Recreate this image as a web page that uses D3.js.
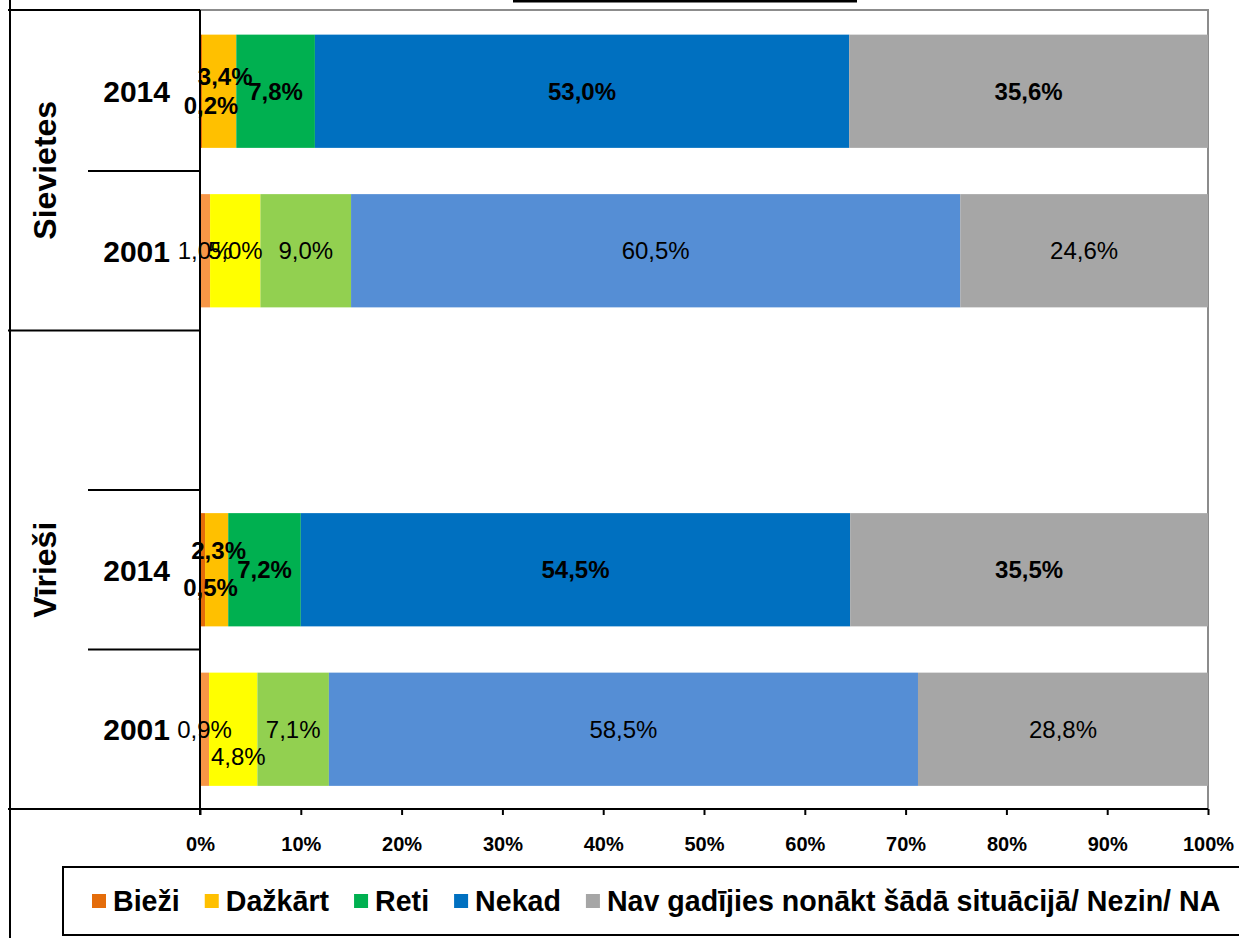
<!DOCTYPE html>
<html>
<head>
<meta charset="utf-8">
<script src="https://cdn.jsdelivr.net/npm/d3@7"></script>
<style>
  body { margin: 0; background: #fff; }
  svg { display: block; font-family: 'Liberation Sans', Arial, sans-serif; }
</style>
</head>
<body>
<div id="chart"></div>
<script>
// categories (top to bottom), blank slot separates the two groups
const rowKeys = ['S2014', 'S2001', 'gap', 'V2014', 'V2001'];
const rowYears = ['2014', '2001', '', '2014', '2001'];
const groups = ['Sievietes', 'Vīrieši'];

const series = ['Bieži', 'Dažkārt', 'Reti', 'Nekad', 'Nav gadījies nonākt šādā situācijā/ Nezin/ NA'];

// values in %
const sievietes2014 = [0.2, 3.4, 7.8, 53.0, 35.6];
const sievietes2001 = [1.0, 5.0, 9.0, 60.5, 24.6];
const viriesi2014 = [0.5, 2.3, 7.2, 54.5, 35.5];
const viriesi2001 = [0.9, 4.8, 7.1, 58.5, 28.8];

const colors2014 = ['#E46C0A', '#FFC000', '#00B050', '#0070C0', '#A6A6A6'];
const colors2001 = ['#F79646', '#FFFF00', '#92D050', '#558ED5', '#A6A6A6'];

// manual label nudges (row, series index, dx, dy) as placed in the original
const labelNudges = [
  ['S2014', 0, 10, 14], ['S2014', 1, 6, -15],
  ['V2014', 0, 8, 18], ['V2014', 1, 2, -19],
  ['V2001', 1, 5, 27]
];

const width = 1239, height = 938;
const plot = {left: 200, right: 1208, top: 10, bottom: 809};

const rows = [
  {key: 'S2014', values: sievietes2014, colors: colors2014, bold: true},
  {key: 'S2001', values: sievietes2001, colors: colors2001, bold: false},
  {key: 'V2014', values: viriesi2014, colors: colors2014, bold: true},
  {key: 'V2001', values: viriesi2001, colors: colors2001, bold: false}
];

const table = rows.map(r => {
  const o = {key: r.key};
  series.forEach((s, i) => o[s] = r.values[i]);
  return o;
});
const stacked = d3.stack().keys(series).offset(d3.stackOffsetExpand)(table);

const x = d3.scaleLinear().domain([0, 1]).range([plot.left, plot.right]);
const y = d3.scaleBand().domain(rowKeys).range([plot.top + 1.5, plot.bottom])
  .paddingInner(0.29).paddingOuter(0.145);

const svg = d3.select('#chart').append('svg')
  .attr('width', width)
  .attr('height', height)
  .attr('viewBox', [0, 0, width, height]);

// fragment of the title underline cut by the crop
svg.append('rect')
  .attr('x', 513).attr('y', 0).attr('width', 344).attr('height', 2.5)
  .attr('fill', '#000');

// plot area border
svg.append('path')
  .attr('d', `M${plot.left},${plot.top}H${plot.right}V${plot.bottom}`)
  .attr('fill', 'none')
  .attr('stroke', '#8c8c8c')
  .attr('stroke-width', 2);

// bars
const layer = svg.append('g').selectAll('g')
  .data(stacked)
  .join('g');

layer.selectAll('rect')
  .data((d, i) => d.map(p => ({p, i})))
  .join('rect')
  .attr('x', d => x(d.p[0]))
  .attr('width', d => x(d.p[1]) - x(d.p[0]))
  .attr('y', d => y(d.p.data.key))
  .attr('height', y.bandwidth())
  .attr('fill', d => rows.find(r => r.key === d.p.data.key).colors[d.i]);

// data labels
const fmt = v => d3.format('.1f')(v).replace('.', ',') + '%';
const nudge = (key, i) => {
  const n = labelNudges.find(l => l[0] === key && l[1] === i);
  return n ? [n[2], n[3]] : [0, 0];
};
const labels = svg.append('g').attr('text-anchor', 'middle');
stacked.forEach((s, i) => {
  s.forEach(p => {
    const row = rows.find(r => r.key === p.data.key);
    const [dx, dy] = nudge(row.key, i);
    labels.append('text')
      .attr('x', (x(p[0]) + x(p[1])) / 2 + dx)
      .attr('y', y(row.key) + y.bandwidth() / 2 + dy)
      .attr('dy', '0.36em')
      .style('font-size', '24px')
      .style('font-weight', row.bold ? 'bold' : 'normal')
      .attr('fill', '#000')
      .text(fmt(row.values[i]));
  });
});

// left axis & category separators
const step = y.step();
const boundaries = rowKeys.map(k => y(k) - y.paddingInner() * step / 2);
boundaries[0] = plot.top;
boundaries.push(plot.bottom);
const groupEdges = [plot.top, y('gap') - y.paddingInner() * step / 2, plot.bottom];

const axisG = svg.append('g').attr('stroke', '#000').attr('stroke-width', 2);
axisG.append('line')
  .attr('x1', plot.left).attr('x2', plot.left)
  .attr('y1', plot.top).attr('y2', plot.bottom + 6);
boundaries.forEach(b => {
  const long = groupEdges.some(g => Math.abs(g - b) < 1);
  axisG.append('line')
    .attr('x1', long ? 8 : 88).attr('x2', plot.left)
    .attr('y1', b).attr('y2', b);
});
// chart area left border
axisG.append('line')
  .attr('x1', 10).attr('x2', 10)
  .attr('y1', 0).attr('y2', height);

// year labels
svg.append('g').selectAll('text')
  .data(rowKeys.map((k, i) => ({k, t: rowYears[i]})).filter(d => d.t))
  .join('text')
  .attr('x', 170)
  .attr('y', d => y(d.k) + y.bandwidth() / 2)
  .attr('dy', '0.36em')
  .attr('text-anchor', 'end')
  .style('font-size', '30px')
  .style('font-weight', 'bold')
  .text(d => d.t);

// group labels (rotated)
svg.append('g').selectAll('text')
  .data(groups)
  .join('text')
  .attr('transform', (d, i) => {
    const cy = (groupEdges[i] + groupEdges[i + 1]) / 2;
    return `translate(44,${cy}) rotate(-90)`;
  })
  .attr('dy', '0.36em')
  .attr('text-anchor', 'middle')
  .style('font-size', '32px')
  .style('font-weight', 'bold')
  .text(d => d);

// x axis
const xAxis = svg.append('g')
  .attr('transform', `translate(0,${plot.bottom})`)
  .call(d3.axisBottom(x).ticks(10).tickFormat(d3.format('.0%')).tickSize(6).tickPadding(22));
xAxis.select('.domain').attr('stroke', '#000').attr('stroke-width', 2)
  .attr('d', `M${plot.left},0H${plot.right}`);
xAxis.selectAll('.tick line').attr('stroke', '#000').attr('stroke-width', 2);
xAxis.selectAll('.tick text')
  .attr('fill', '#000')
  .style('font-size', '20px')
  .style('font-weight', 'bold')
  .style('font-family', "'Liberation Sans', Arial, sans-serif");

// legend
const legend = svg.append('g');
legend.append('rect')
  .attr('x', 63).attr('y', 867)
  .attr('width', 1190).attr('height', 68)
  .attr('fill', '#fff')
  .attr('stroke', '#000')
  .attr('stroke-width', 2);

let lx = 92;
series.forEach((s, i) => {
  legend.append('rect')
    .attr('x', lx).attr('y', 894)
    .attr('width', 14).attr('height', 14)
    .attr('fill', colors2014[i]);
  const t = legend.append('text')
    .attr('x', lx + 21)
    .attr('y', 901)
    .attr('dy', '0.36em')
    .style('font-size', '28.6px')
    .style('font-weight', 'bold')
    .text(s);
  lx += 21 + t.node().getComputedTextLength() + 25;
});
</script>
</body>
</html>
